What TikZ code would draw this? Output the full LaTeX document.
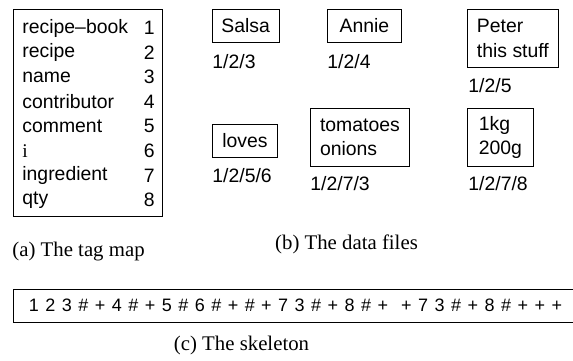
\documentclass[tikz,border=0pt]{standalone}
\usepackage{fontspec}
\setmainfont{Liberation Sans}
\newfontfamily\capfont{Liberation Serif}
\usetikzlibrary{positioning}
\tikzset{
  datafile/.style={draw,anchor=north west,inner xsep=4.5pt,inner ysep=0pt,align=left},
  path/.style={anchor=west,inner sep=0pt},
  caption/.style={inner sep=0pt,font=\capfont\fontsize{10.4}{12}\selectfont}
}
\begin{document}
\begin{tikzpicture}[x=0.5pt,y=-0.5pt,font=\fontsize{9.7}{12.3}\selectfont]
\useasboundingbox (0,0) rectangle (573,360);
% (a) tag map
\draw (13,9) rectangle (162,216);
\foreach \tag/\num [count=\k] in {recipe--book/1,recipe/2,name/3,contributor/4,comment/5,{\capfont i}/6,ingredient/7,qty/8}
{
\node[path] (tag\k) at (22,{28+24.6*(\k-1)}) {\tag};
\node[inner sep=0pt,anchor=east] (num\k) at (155,{28+24.6*(\k-1)}) {\num};
}
\node[caption,anchor=west] (capa) at (12,252) {(a) The tag map};
% (b) data files
\node[datafile,minimum width=32.5pt,minimum height=16.5pt] (salsa) at (212,9) {Salsa};
\node[datafile,minimum width=37pt,minimum height=16.5pt] (annie) at (327,9) {Annie};
\node[datafile,minimum width=45.5pt,minimum height=29pt] (peter) at (467,9) {Peter\\this stuff};
\node[datafile,minimum width=32.5pt,minimum height=16.5pt] (loves) at (212,124) {loves};
\node[datafile,minimum width=49.5pt,minimum height=29pt] (tomatoes) at (310,108) {tomatoes\\onions};
\node[datafile,minimum width=33pt,minimum height=29pt] (qty) at (467,108) {1kg\\200g};
\node[path] (psalsa) at (212,62) {1/2/3};
\node[path] (pannie) at (327,62) {1/2/4};
\node[path] (ppeter) at (468,86) {1/2/5};
\node[path] (ploves) at (212,176) {1/2/5/6};
\node[path] (ptomatoes) at (310,184) {1/2/7/3};
\node[path] (pqty) at (468,184) {1/2/7/8};
\node[caption] (capb) at (346.5,244) {(b) The data files};
% (c) skeleton
\node[draw,anchor=west,inner xsep=8pt,minimum height=16.5pt,text width=300pt,align=left,
  font=\fontsize{9}{11}\selectfont] (skel) at (12.5,305.5)
 {\spaceskip=0.36em plus 0.1em\relax
  1 2 3 \# + 4 \# + 5 \# 6 \# + \# + 7 3 \# + 8 \# + \ + 7 3 \# + 8 \# + + +};
\node[caption] (capc) at (241.5,345) {(c) The skeleton};
\end{tikzpicture}
\end{document}
